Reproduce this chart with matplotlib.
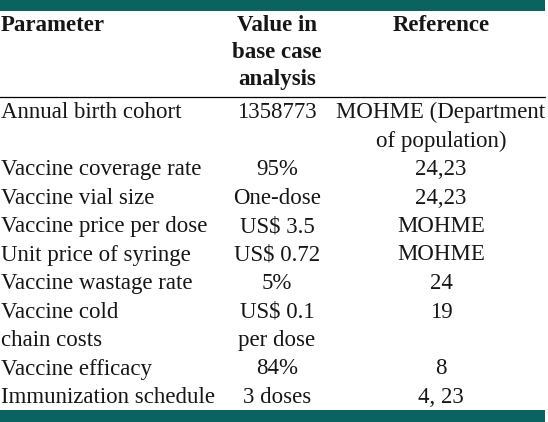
import matplotlib
matplotlib.use("Agg")
from matplotlib import pyplot as plt
from matplotlib.patches import Rectangle

# Table contents
headers = ["Parameter", "Value in\nbase case\nanalysis", "Reference"]
parameters = ["Annual birth cohort", "Vaccine coverage rate", "Vaccine vial size",
              "Vaccine price per dose", "Unit price of syringe", "Vaccine wastage rate",
              "Vaccine cold\nchain costs", "Vaccine efficacy", "Immunization schedule"]
values = ["1358773", "95%", "One-dose", "US$ 3.5", "US$ 0.72", "5%",
          "US$ 0.1\nper dose", "84%", "3 doses"]
references = ["MOHME (Department\nof population)", "24,23", "24,23", "MOHME", "MOHME",
              "24", "19", "8", "4, 23"]

teal = "#0a6361"
W, H = 548, 422
fig = plt.figure(figsize=(W / 100, H / 100), dpi=100)
ax = fig.add_axes([0, 0, 1, 1])
ax.set_xlim(0, W)
ax.set_ylim(H, 0)
ax.axis("off")

font = dict(family=["Liberation Serif", "DejaVu Serif"], fontsize=16.5, color="#161616")

# Top and bottom bars
ax.add_patch(Rectangle((0, 0), 545, 10.5, color=teal, lw=0))
ax.add_patch(Rectangle((0, 410), 545, 12, color=teal, lw=0))

col_x = [1, 277, 441]
col_ha = ["left", "center", "center"]
line_h = 28.5

# Header
head_y = 31
for j, h in enumerate(headers):
    for k, part in enumerate(h.split("\n")):
        ax.text(col_x[j], head_y + k * 27, part, ha=col_ha[j], va="baseline",
                fontweight="bold", **font)
ax.plot([0, 545], [96.5, 96.5], color="black", lw=0.9)

# Body
y = 118
for p, v, r in zip(parameters, values, references):
    n = 1
    for j, cell in enumerate([p, v, r]):
        parts = cell.split("\n")
        n = max(n, len(parts))
        for k, part in enumerate(parts):
            ax.text(col_x[j], y + k * line_h, part, ha=col_ha[j], va="baseline", **font)
    y += n * line_h

fig.savefig("out.png", dpi=100)
